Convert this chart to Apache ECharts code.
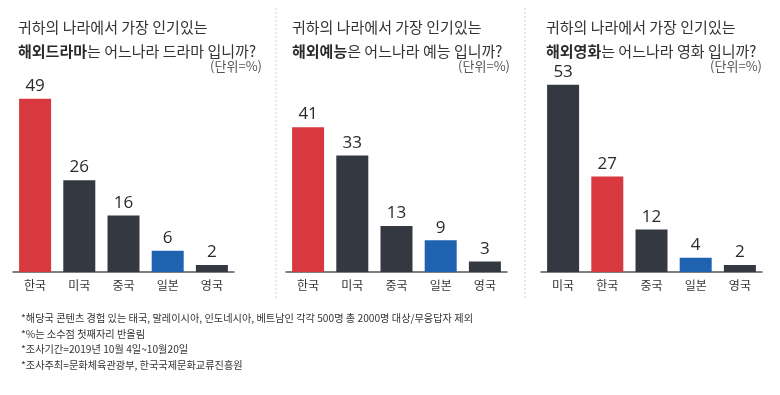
<!DOCTYPE html>
<html><head><meta charset="utf-8">
<script src="https://cdn.jsdelivr.net/npm/echarts@6/dist/echarts.min.js"></script>
<style>html,body{margin:0;padding:0;background:#fff}#c{width:780px;height:395px}</style>
</head><body><div id="c"></div>
<script>
const dramaCats = ['한국','미국','중국','일본','영국'];
const dramaVals = [49, 26, 16, 6, 2];
const varietyCats = ['한국','미국','중국','일본','영국'];
const varietyVals = [41, 33, 13, 9, 3];
const movieCats = ['미국','한국','중국','일본','영국'];
const movieVals = [53, 27, 12, 4, 2];
const titleLine1 = '귀하의 나라에서 가장 인기있는';
const titleBold = ['해외드라마', '해외예능', '해외영화'];
const titleRest = ['는 어느나라 드라마 입니까?', '은 어느나라 예능 입니까?', '는 어느나라 영화 입니까?'];
const unitText = '(단위=%)';
const notes = [
  '*해당국 콘텐츠 경험 있는 태국, 말레이시아, 인도네시아, 베트남인 각각 500명 총 2000명 대상/무응답자 제외',
  '*%는 소수점 첫째자리 반올림',
  '*조사기간=2019년 10월 4일~10월20일',
  '*조사주최=문화체육관광부, 한국국제문화교류진흥원'
];

const RED = '#d8393f', DARK = '#343841', BLUE = '#1f63b0';
const colorFor = c => c === '한국' ? RED : (c === '일본' ? BLUE : DARK);
const KR = '"Noto Sans CJK KR", sans-serif';

const panels = [
  {cats: dramaCats, vals: dramaVals, left: 13, tx: 13, ux: 262},
  {cats: varietyCats, vals: varietyVals, left: 286, tx: 287, ux: 510},
  {cats: movieCats, vals: movieVals, left: 541, tx: 541, ux: 762}
];

const chart = echarts.init(document.getElementById('c'));
const option = {
  animation: false,
  backgroundColor: '#fff',
  title: [],
  grid: [], xAxis: [], yAxis: [], series: [],
  graphic: []
};
panels.forEach((p, i) => {
  option.grid.push({left: p.left, width: 221, top: 60, height: 212});
  option.xAxis.push({
    type: 'category', gridIndex: i, data: p.cats,
    axisLine: {lineStyle: {color: '#555', width: 1.5}},
    axisTick: {show: false},
    axisLabel: {color: '#333', fontSize: 12, fontFamily: KR, margin: 7}
  });
  option.yAxis.push({
    type: 'value', gridIndex: i, min: 0, max: 60,
    show: false, splitLine: {show: false}
  });
  option.series.push({
    type: 'bar', xAxisIndex: i, yAxisIndex: i,
    data: p.vals.map((v, k) => ({value: v, itemStyle: {color: colorFor(p.cats[k])}})),
    barWidth: 32,
    label: {show: true, position: 'top', distance: 4, color: '#2a2a2a', fontSize: 17, fontFamily: '"Open Sans", sans-serif'}
  });
  option.title.push({
    left: p.tx, top: 10,
    text: titleLine1 + '\n{b|' + titleBold[i] + '}{n|' + titleRest[i] + '}',
    textStyle: {
      fontFamily: KR, fontSize: 15, fontWeight: 'normal', color: '#333', lineHeight: 24,
      rich: {
        b: {fontFamily: KR, fontSize: 15, fontWeight: 'bold', color: '#2a2a2a', lineHeight: 24},
        n: {fontFamily: KR, fontSize: 15, fontWeight: 'normal', color: '#333', lineHeight: 24}
      }
    }
  });
  option.graphic.push({
    type: 'text', right: 780 - p.ux, top: 60,
    style: {text: unitText, font: '13px ' + KR, fill: '#555'}
  });
});
[276, 525].forEach(x => {
  option.graphic.push({
    type: 'line', shape: {x1: x, y1: 8, x2: x, y2: 298},
    style: {stroke: '#cfcfcf', lineWidth: 1, lineDash: [2, 2]}
  });
});
notes.forEach((t, k) => {
  option.graphic.push({
    type: 'text', left: 21, top: 313 + k * 15.7,
    style: {text: t, font: '10.2px ' + KR, fill: '#333'}
  });
});
chart.setOption(option);
</script></body></html>
